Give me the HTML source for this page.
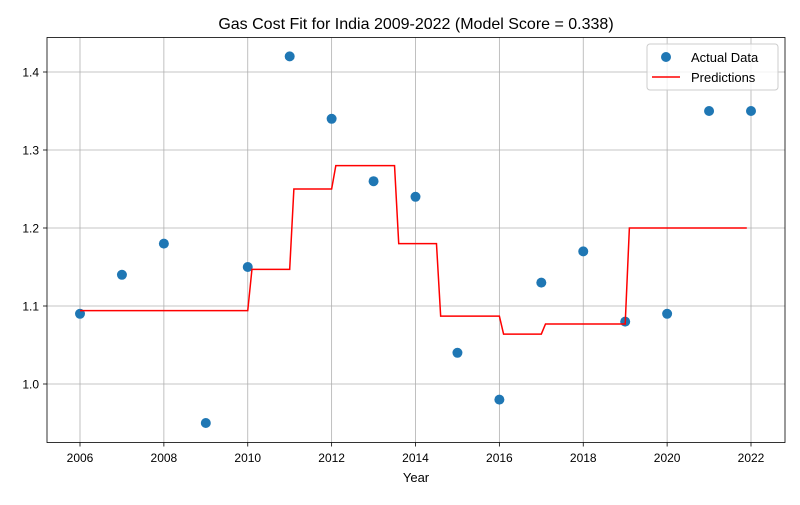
<!DOCTYPE html>
<html><head><meta charset="utf-8"><style>
body{margin:0;background:#fff;}
svg text{font-family:"Liberation Sans","DejaVu Sans",sans-serif;fill:#000;}
</style></head><body>
<svg id="chart" width="800" height="500" xmlns="http://www.w3.org/2000/svg">
<rect width="800" height="500" fill="#fff"/>
<text x="416" y="29" font-size="16" text-anchor="middle">Gas Cost Fit for India 2009-2022 (Model Score = 0.338)</text>
<g id="grid"></g>
<g id="ticks"></g>
<g id="series"></g>
<rect x="47" y="37.5" width="738" height="405" fill="none" stroke="#000" stroke-width="0.8"/>
<text x="416" y="482" font-size="13" text-anchor="middle">Year</text>
<g>
<rect x="647" y="44" width="131" height="46" rx="3" fill="#fff" fill-opacity="0.8" stroke="#ccc"/>
<circle cx="666" cy="57" r="5" fill="#1f77b4"/>
<text x="691" y="62" font-size="13">Actual Data</text>
<line x1="652" y1="77" x2="680" y2="77" stroke="red" stroke-width="1.5"/>
<text x="691" y="82" font-size="13">Predictions</text>
</g>
</svg>
<script>
const years=[2006,2007,2008,2009,2010,2011,2012,2013,2014,2015,2016,2017,2018,2019,2020,2021,2022];
const actual=[1.09,1.14,1.18,0.95,1.15,1.42,1.34,1.26,1.24,1.04,0.98,1.13,1.17,1.08,1.09,1.35,1.35];
const predX=[2006,2010.0,2010.1,2011.0,2011.1,2012.0,2012.1,2013.5,2013.6,2014.5,2014.6,2016.0,2016.1,2017.0,2017.1,2019.0,2019.1,2021.9];
const predY=[1.094,1.094,1.147,1.147,1.25,1.25,1.28,1.28,1.18,1.18,1.087,1.087,1.064,1.064,1.077,1.077,1.2,1.2];
const xTicks=[2006,2008,2010,2012,2014,2016,2018,2020,2022];
const yTicks=[1.0,1.1,1.2,1.3,1.4];
const NS="http://www.w3.org/2000/svg";
function sx(v){return 80+(v-2006)*(751-80)/16;}
function sy(v){return 384-(v-1.0)*780;}
function mk(tag,attrs,parent){const e=document.createElementNS(NS,tag);for(const k in attrs)e.setAttribute(k,attrs[k]);document.getElementById(parent).appendChild(e);return e;}
xTicks.forEach(t=>{
  const g=mk('line',{x1:sx(t),x2:sx(t),y1:37.5,y2:442.5,stroke:'#b0b0b0','stroke-width':0.8},'grid');
  
  
  const tk=mk('line',{x1:sx(t),x2:sx(t),y1:442.5,y2:446.5,stroke:'#000','stroke-width':0.8},'ticks');
  
  
  const tx=mk('text',{x:sx(t),y:462,'font-size':12,'text-anchor':'middle'},'ticks');
  tx.textContent=t;
  
  
});
yTicks.forEach(t=>{
  const g=mk('line',{x1:47,x2:785,y1:sy(t),y2:sy(t),stroke:'#b0b0b0','stroke-width':0.8},'grid');
  
  
  const tk=mk('line',{x1:43,x2:47,y1:sy(t),y2:sy(t),stroke:'#000','stroke-width':0.8},'ticks');
  
  
  const tx=mk('text',{x:39,y:sy(t)+4.5,'font-size':12,'text-anchor':'end'},'ticks');
  tx.textContent=t.toFixed(1);
  
  
});
years.forEach((y,i)=>{
  const c=mk('circle',{cx:sx(y),cy:sy(actual[i]),r:5,fill:'#1f77b4'},'series');
  
  
});
const pl=mk('polyline',{points:predX.map((x,i)=>sx(x)+','+sy(predY[i])).join(' '),fill:'none',stroke:'red','stroke-width':1.5},'series');


</script>
</body></html>
